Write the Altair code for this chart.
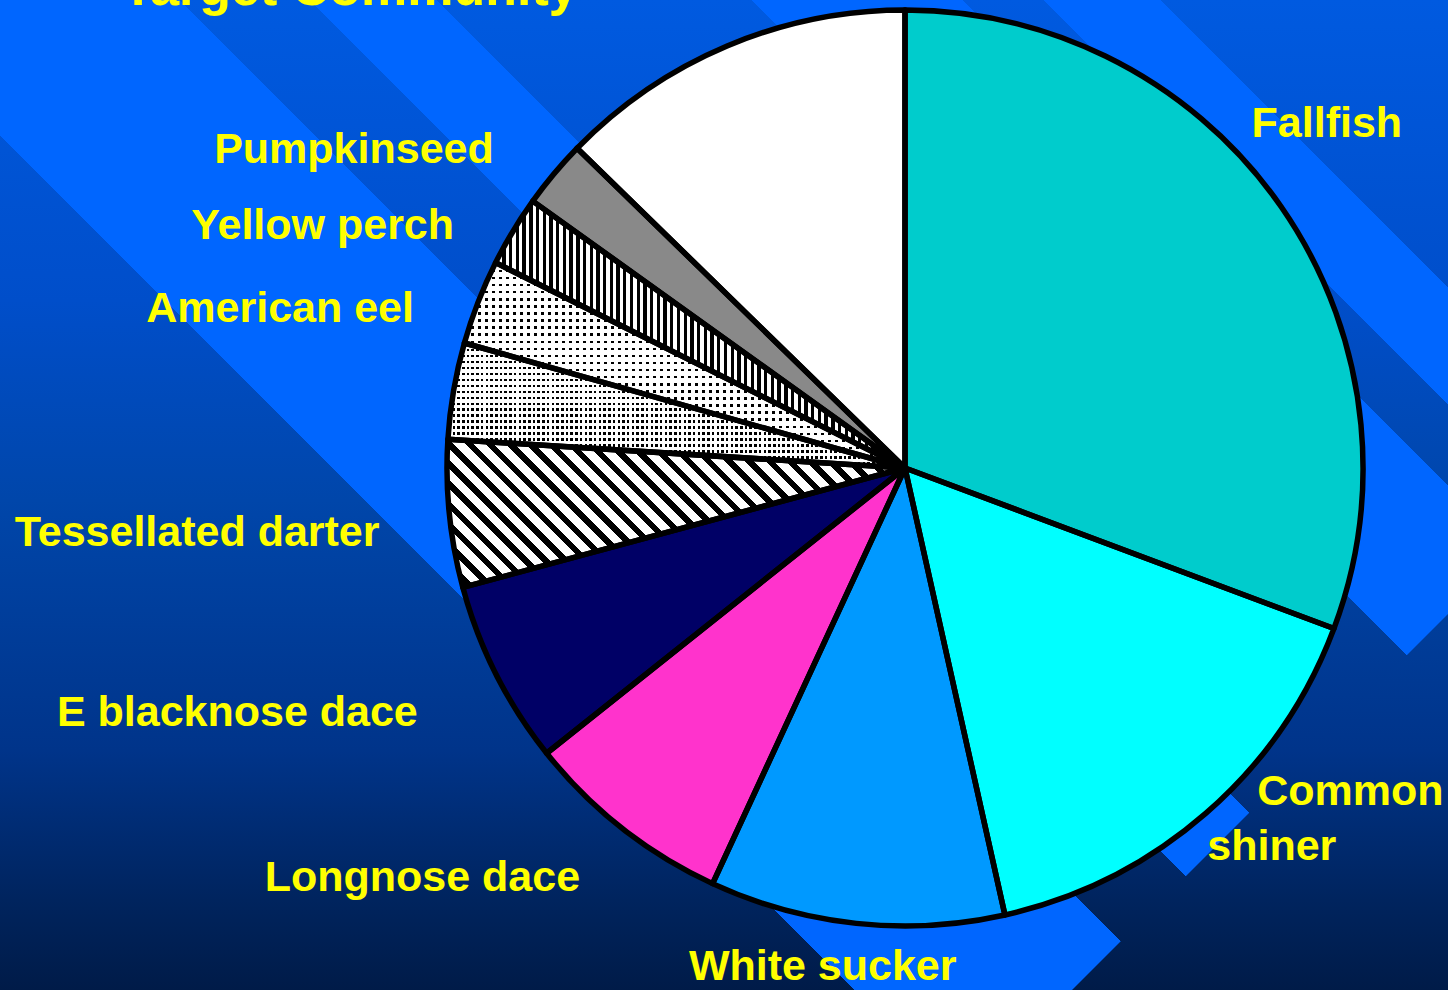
import math
import altair as alt
import pandas as pd

# ------------------------------------------------------------------ data
labels = ["Fallfish", "Common shiner", "White sucker", "Longnose dace",
          "E blacknose dace", "Tessellated darter", "", "American eel",
          "Yellow perch", "Pumpkinseed", ""]
percent = [30.7, 15.8, 10.4, 7.4, 6.5, 5.2, 3.4, 3.0, 2.5, 2.4, 12.7]
title_text = "Target Community"

# ------------------------------------------------------------------ style
slice_colors = ["#00CCCC", "#00FFFF", "#0099FF", "#FF33CC", "#000066",
                "#FFFFFF", "#000000", "#000000", "#FFFFFF", "#898989", "#FFFFFF"]
W, H = 1448, 990
CX, CY, R = 905, 468, 458
FONT = "Liberation Sans"
FONT_SIZE = 43
YELLOW = "#FFFF00"
BRIGHT = "#0066FF"
CLEAR = "rgba(0,102,255,0)"
CLEAR_W = "rgba(255,255,255,0)"
base_stops = [(0, "#005AE0"), (300, "#004ECA"), (500, "#0046AA"),
              (750, "#00348A"), (900, "#00245E"), (990, "#001B48")]
bands = [(-136, 180), (310, 436), (752, 962), (1044, 1161)]  # in (x - y) px
BAND_END = 2062  # bands stop where x + y exceeds this
CORNER_R = 330
# label nudges: (align, dx, dy, text expression)
label_style = {
    "Pumpkinseed": ("right", -28, 16, "datum.label"),
    "Yellow perch": ("right", -23, 30, "datum.label"),
    "American eel": ("right", -25, 35, "datum.label"),
    "Tessellated darter": ("right", -28, 28, "datum.label"),
    "E blacknose dace": ("right", -41, 32, "datum.label"),
    "Longnose dace": ("right", -16, 30, "datum.label"),
    "White sucker": ("center", -29, 15, "datum.label"),
    "Fallfish": ("center", 11, -46, "datum.label"),
}

df = pd.DataFrame({"idx": list(range(len(labels))), "label": labels, "value": percent})
df["end"] = df["value"].cumsum()
df["start"] = df["end"] - df["value"]
df["mid"] = (df["start"] + df["end"]) / 2
TOTAL = float(sum(percent))
theta_scale = alt.Scale(domain=[0, TOTAL])


# ------------------------------------------------------------------ helpers
def grad(stops, x1=0, y1=0, x2=1, y2=0):
    return {"gradient": "linear", "x1": x1, "y1": y1, "x2": x2, "y2": y2,
            "stops": [{"offset": round(min(max(o, 0.0), 1.0), 5), "color": c}
                      for o, c in stops]}


def stripe_stops(n, frac, ink, paper):
    out = []
    for i in range(n):
        a, b, c = i / n, (i + frac) / n, (i + 1) / n
        out += [(a, ink), (b, ink), (b, paper), (c, paper)]
    return out


def sector_box(a0, a1, r):
    angs = [a0, a1] + [k * math.pi / 2 for k in range(9) if a0 < k * math.pi / 2 < a1]
    xs = [0.0] + [r * math.sin(a) for a in angs]
    ys = [0.0] + [-r * math.cos(a) for a in angs]
    return min(xs), min(ys), max(xs) - min(xs), max(ys) - min(ys)


def slice_box(i):
    a0 = df["start"][i] / TOTAL * 2 * math.pi
    a1 = df["end"][i] / TOTAL * 2 * math.pi
    return sector_box(a0, a1, R)


def hex2rgb(h):
    return tuple(int(h[k:k + 2], 16) for k in (1, 3, 5))


def base_color_at(y):
    if y <= base_stops[0][0]:
        return base_stops[0][1]
    for (ya, ca), (yb, cb) in zip(base_stops, base_stops[1:]):
        if ya <= y <= yb:
            t = (y - ya) / (yb - ya)
            a, b = hex2rgb(ca), hex2rgb(cb)
            return "#%02X%02X%02X" % tuple(round(a[k] + (b[k] - a[k]) * t) for k in range(3))
    return base_stops[-1][1]


one = alt.Data(values=[{"k": 1}])
layers = []

# ------------------------------------------------------------------ background
bg_grad = grad([(y / H, c) for y, c in base_stops], 0, 0, 0, 1)
layers.append(alt.Chart(one).mark_rect(fill=bg_grad).encode(
    x=alt.value(0), x2=alt.value(W), y=alt.value(0), y2=alt.value(H)))

lam = (W + H) / (W * W + H * H)
bstops = [(0.0, CLEAR)]
for s0, s1 in bands:
    t0, t1 = (s0 + H) / (W + H), (s1 + H) / (W + H)
    bstops += [(t0, CLEAR), (t0, BRIGHT), (t1, BRIGHT), (t1, CLEAR)]
bstops.append((1.0, CLEAR))
layers.append(alt.Chart(one).mark_rect(
    fill=grad(bstops, 0, 1, lam * W, 1 - lam * H)).encode(
    x=alt.value(0), x2=alt.value(W), y=alt.value(0), y2=alt.value(H)))

# corner beyond the band ends: plain background again
ccx = 1255
ccy = BAND_END - ccx
_, by0, _, bh = sector_box(math.pi / 4, 5 * math.pi / 4, CORNER_R)
y_top = ccy + by0
cstops = [(0.0, base_color_at(y_top))]
for y, c in base_stops:
    if y_top < y < y_top + bh:
        cstops.append(((y - y_top) / bh, c))
cstops.append((1.0, base_color_at(y_top + bh)))
layers.append(alt.Chart(one).mark_arc(fill=grad(cstops, 0, 0, 0, 1)).encode(
    x=alt.value(ccx), y=alt.value(ccy),
    theta=alt.value(math.pi / 4), theta2=alt.value(5 * math.pi / 4),
    radius=alt.value(CORNER_R)))

# ------------------------------------------------------------------ pie
pie = alt.Chart(df).encode(
    theta=alt.Theta("start:Q", stack=False, scale=theta_scale),
    theta2="end:Q",
    x=alt.value(CX), y=alt.value(CY))

layers.append(pie.mark_arc(radius=R).encode(
    fill=alt.Fill("idx:N", scale=alt.Scale(domain=list(range(len(labels))),
                                            range=slice_colors), legend=None)))

# diagonal hatching (slice 5)
_, _, bw, bh5 = slice_box(5)
lam5 = (bw + bh5) / (bw * bw + bh5 * bh5)
n5 = max(1, round((bw + bh5) / 20))
layers.append(pie.transform_filter(alt.datum.idx == 5).mark_arc(
    radius=R, fill=grad(stripe_stops(n5, 0.42, "#000000", "#FFFFFF"),
                        0, 1, lam5 * bw, 1 - lam5 * bh5)))

# vertical stripes (slice 8)
_, _, bw8, _ = slice_box(8)
n8 = max(1, round(bw8 / 6.7))
layers.append(pie.transform_filter(alt.datum.idx == 8).mark_arc(
    radius=R, fill=grad(stripe_stops(n8, 0.5, "#000000", "#FFFFFF"), 0, 0, 1, 0)))

# dotted slices (6 dense, 7 sparse): black base masked by white rows and columns
for i, px, py, dot in [(6, 4.7, 6.0, 2.5), (7, 7.0, 7.0, 2.5)]:
    _, _, bwi, bhi = slice_box(i)
    nr = max(1, round(bhi / py))
    nc = max(1, round(bwi / px))
    layers.append(pie.transform_filter(alt.datum.idx == i).mark_arc(
        radius=R, fill=grad(stripe_stops(nr, dot / py, CLEAR_W, "#FFFFFF"), 0, 0, 0, 1)))
    layers.append(pie.transform_filter(alt.datum.idx == i).mark_arc(
        radius=R, fill=grad(stripe_stops(nc, dot / px, CLEAR_W, "#FFFFFF"), 0, 0, 1, 0)))

# outlines
layers.append(pie.mark_arc(radius=R, fill="#000000", fillOpacity=0,
                           stroke="#000000", strokeWidth=5.5, strokeJoin="round"))


# ------------------------------------------------------------------ labels
def label_layer(cond, align, dx, dy, text_expr="datum.label", radius=500):
    return (alt.Chart(df)
            .transform_filter(cond)
            .transform_calculate(txt=text_expr)
            .mark_text(font=FONT, fontSize=FONT_SIZE, fontWeight="bold", color=YELLOW,
                       align=align, baseline="alphabetic", dx=dx, dy=dy)
            .encode(theta=alt.Theta("mid:Q", stack=False, scale=theta_scale),
                    radius=alt.value(radius),
                    x=alt.value(CX), y=alt.value(CY),
                    text="txt:N"))


for name, (align, dx, dy, expr) in label_style.items():
    layers.append(label_layer("datum.label == '%s'" % name, align, dx, dy, expr))
layers.append(label_layer("datum.label == 'Common shiner'", "left", 24, -40,
                          text_expr="split(datum.label, ' ')[0]"))
layers.append(label_layer("datum.label == 'Common shiner'", "left", -26, 15,
                          text_expr="split(datum.label, ' ')[1]"))

# title (mostly above the visible page, as in the original slide)
layers.append(alt.Chart(alt.Data(values=[{"t": title_text}])).mark_text(
    font=FONT, fontSize=52, fontWeight="bold", color=YELLOW,
    align="center", baseline="alphabetic").encode(
    x=alt.value(350), y=alt.value(5), text="t:N"))

chart = alt.layer(*layers).properties(
    width=W, height=H, padding=0,
    autosize=alt.AutoSizeParams(type="none"),
).configure_view(strokeWidth=0)

chart.save("out.html", embed_options={"renderer": "svg", "actions": False})
